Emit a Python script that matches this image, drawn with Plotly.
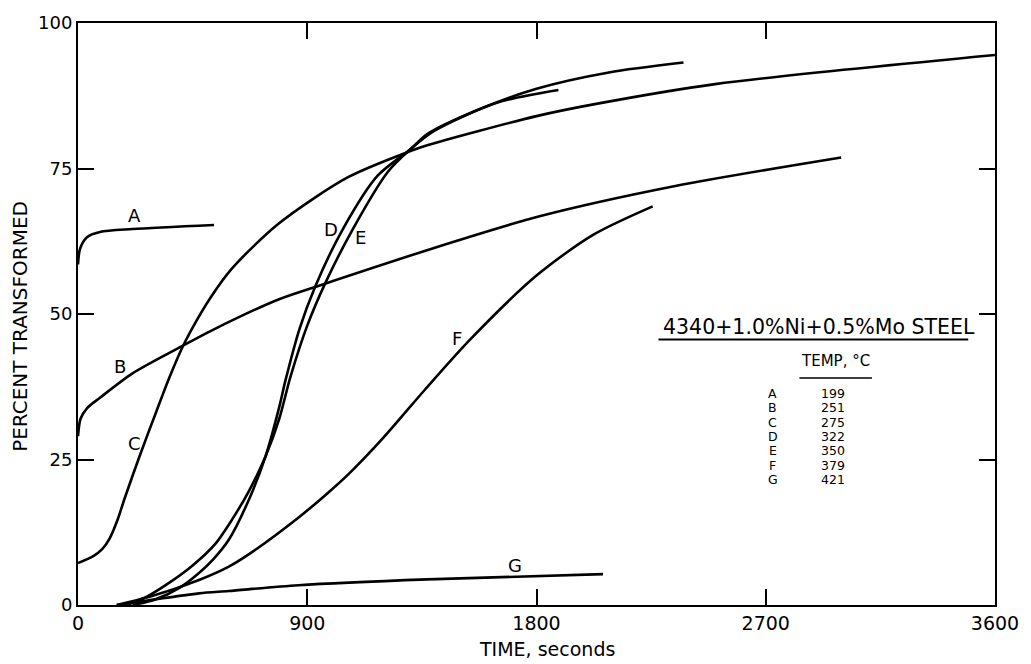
import plotly.graph_objects as go

# Isothermal transformation curves: time (s) vs percent transformed
a_time = [0, 8, 35, 86, 214, 534]
a_pct = [58.5, 61.2, 63.2, 64.1, 64.6, 65.3]

b_time = [0, 10, 35, 86, 214, 405, 526, 787, 955, 1488, 1812, 2345, 2996]
b_pct = [29.0, 32.0, 33.8, 35.6, 39.8, 44.4, 47.2, 52.5, 55.0, 62.6, 66.8, 72.0, 76.9]

c_time = [0, 60, 95, 125, 155, 183, 242, 308, 358, 409, 444, 520, 604, 787, 1060, 1305, 1371, 1800, 2034, 2501, 3600]
c_pct = [7.2, 8.4, 9.6, 11.5, 14.6, 18.3, 25.6, 33.3, 39.0, 44.2, 47.2, 52.8, 57.8, 65.5, 73.5, 78.0, 79.0, 84.0, 86.1, 89.5, 94.5]

d_time = [214, 300, 400, 475, 530, 592, 670, 736, 790, 814, 870, 931, 1040, 1177, 1305, 1371, 1566, 1800, 2084, 2377]
d_pct = [0, 0.9, 3.0, 5.5, 7.8, 11.2, 18.0, 25.5, 34.0, 38.5, 47.5, 54.7, 64.6, 73.8, 78.3, 80.9, 85.0, 88.7, 91.5, 93.2]

e_time = [190, 260, 347, 450, 541, 592, 670, 736, 790, 834, 900, 974, 1079, 1216, 1305, 1400, 1644, 1886]
e_pct = [0, 1.2, 3.5, 6.8, 10.6, 13.8, 19.5, 25.5, 32.0, 39.2, 48.0, 55.6, 64.6, 74.4, 78.3, 81.5, 86.3, 88.5]

f_time = [152, 281, 475, 592, 670, 865, 982, 1060, 1200, 1360, 1539, 1800, 2022, 2256]
f_pct = [0, 1.4, 4.3, 6.6, 8.7, 15.0, 19.3, 22.4, 28.8, 36.9, 45.6, 56.6, 63.6, 68.5]

g_time = [152, 214, 475, 592, 865, 1371, 2061]
g_pct = [0, 0.4, 2.0, 2.4, 3.4, 4.4, 5.3]

curve_names = ["A", "B", "C", "D", "E", "F", "G"]
curve_temps = ["199", "251", "275", "322", "350", "379", "421"]
label_time = [222, 164, 222, 993, 1110, 1488, 1714]
label_pct = [67.0, 41.0, 27.7, 64.6, 63.2, 45.8, 6.8]

x_ticks = [0, 900, 1800, 2700, 3600]
y_ticks = [0, 25, 50, 75, 100]

FONT = "DejaVu Sans"

series = [
    (a_time, a_pct), (b_time, b_pct), (c_time, c_pct), (d_time, d_pct),
    (e_time, e_pct), (f_time, f_pct), (g_time, g_pct),
]

fig = go.Figure()
for name, (t, p) in zip(curve_names, series):
    fig.add_trace(go.Scatter(
        x=t, y=p, mode="lines", name=name,
        line=dict(color="black", width=2.6, shape="spline", smoothing=0.8),
        showlegend=False, hoverinfo="skip",
    ))

annotations = []
# Curve letters
for name, lx, ly in zip(curve_names, label_time, label_pct):
    annotations.append(dict(x=lx, y=ly, text=name, showarrow=False,
                            font=dict(family=FONT, size=18, color="black")))

# Steel composition heading and temperature table
annotations.append(dict(x=2910, y=47.7, text="4340+1.0%Ni+0.5%Mo STEEL", showarrow=False,
                        font=dict(family=FONT, size=20.5, color="black")))
annotations.append(dict(x=2975, y=41.9, text="TEMP, °C", showarrow=False,
                        font=dict(family=FONT, size=15, color="black")))
row_y = [36.3, 33.85, 31.4, 28.95, 26.5, 24.05, 21.6]
for name, temp, ry in zip(curve_names, curve_temps, row_y):
    annotations.append(dict(x=2727, y=ry, text=name, showarrow=False,
                            font=dict(family=FONT, size=12.5, color="black")))
    annotations.append(dict(x=2965, y=ry, text=temp, showarrow=False,
                            font=dict(family=FONT, size=12.5, color="black")))

# Axis titles
annotations.append(dict(x=0.511, y=-0.0752, xref="paper", yref="paper",
                        xanchor="center", yanchor="middle",
                        text="TIME, seconds", showarrow=False,
                        font=dict(family=FONT, size=19, color="black")))
annotations.append(dict(x=-0.0628, y=0.4786, xref="paper", yref="paper",
                        xanchor="center", yanchor="middle",
                        text="PERCENT TRANSFORMED", textangle=-90, showarrow=False,
                        font=dict(family=FONT, size=20, color="black")))

shapes = [
    dict(type="line", x0=2279, x1=3495, y0=45.6, y1=45.6, xref="x", yref="y",
         line=dict(color="black", width=2)),
    dict(type="line", x0=2832, x1=3117, y0=39.0, y1=39.0, xref="x", yref="y",
         line=dict(color="black", width=1.5)),
]

fig.update_layout(
    width=1031, height=664,
    margin=dict(l=78, r=29, t=20, b=59),
    paper_bgcolor="white", plot_bgcolor="white",
    annotations=annotations, shapes=shapes,
    font=dict(family=FONT, color="black"),
)
fig.update_xaxes(
    range=[0, 3600], tickvals=x_ticks, ticktext=[str(v) for v in x_ticks],
    showgrid=False, zeroline=False, showline=True, linecolor="black", linewidth=2,
    mirror="ticks", ticks="inside", ticklen=16, tickwidth=1.5, tickcolor="black",
    tickfont=dict(family=FONT, size=19, color="black"),
)
fig.update_yaxes(
    range=[0, 100], tickvals=y_ticks, ticktext=[str(v) for v in y_ticks],
    showgrid=False, zeroline=False, showline=True, linecolor="black", linewidth=2,
    mirror="ticks", ticks="inside", ticklen=16, tickwidth=1.5, tickcolor="black",
    tickfont=dict(family=FONT, size=18, color="black"),
)

fig.write_html("out.html")
